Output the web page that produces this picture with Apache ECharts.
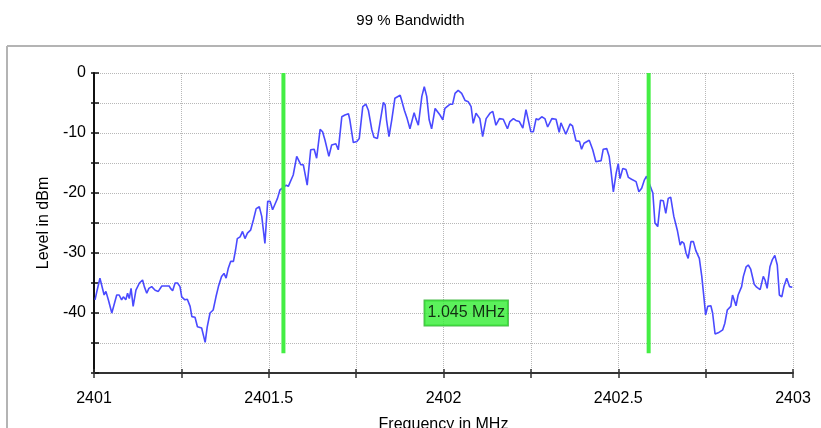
<!DOCTYPE html>
<html>
<head>
<meta charset="utf-8">
<script src="https://cdn.jsdelivr.net/npm/echarts@6/dist/echarts.min.js"></script>
<style>
html,body{margin:0;padding:0;background:#fff;}
#chart{width:821px;height:428px;}
</style>
</head>
<body>
<div id="chart"></div>
<script>
// Frequency (MHz) of each trace sample
var freqs = [2401.003,2401.009,2401.017,2401.022,2401.029,2401.034,2401.041,2401.051,2401.055,2401.065,
2401.072,2401.079,2401.084,2401.091,2401.096,2401.101,2401.106,2401.112,2401.120,2401.130,
2401.139,2401.144,2401.151,2401.157,2401.165,2401.175,2401.184,2401.194,2401.205,2401.215,
2401.219,2401.225,2401.232,2401.239,2401.246,2401.251,2401.260,2401.267,2401.275,2401.280,
2401.289,2401.296,2401.300,2401.308,2401.318,2401.324,2401.332,2401.341,2401.349,2401.356,
2401.365,2401.372,2401.378,2401.384,2401.391,2401.399,2401.405,2401.410,2401.418,2401.425,
2401.432,2401.439,2401.448,2401.456,2401.464,2401.473,2401.480,2401.489,2401.497,2401.504,
2401.511,2401.519,2401.525,2401.532,2401.537,2401.550,2401.556,2401.570,2401.580,2401.585,
2401.592,2401.599,2401.610,2401.620,2401.630,2401.637,2401.647,2401.654,2401.661,2401.672,
2401.680,2401.692,2401.699,2401.709,2401.718,2401.728,2401.732,2401.742,2401.752,2401.759,
2401.769,2401.778,2401.785,2401.795,2401.801,2401.811,2401.818,2401.828,2401.833,2401.837,
2401.844,2401.852,2401.861,2401.876,2401.880,2401.888,2401.896,2401.904,2401.909,2401.916,
2401.921,2401.928,2401.938,2401.945,2401.952,2401.959,2401.966,2401.976,2401.981,2401.990,
2401.998,2402.004,2402.019,2402.026,2402.033,2402.042,2402.052,2402.062,2402.071,2402.079,
2402.085,2402.093,2402.104,2402.112,2402.122,2402.133,2402.141,2402.150,2402.160,2402.171,
2402.183,2402.190,2402.200,2402.207,2402.217,2402.227,2402.236,2402.241,2402.250,2402.257,
2402.265,2402.271,2402.281,2402.290,2402.298,2402.310,2402.322,2402.331,2402.336,2402.341,
2402.350,2402.362,2402.369,2402.379,2402.389,2402.395,2402.402,2402.417,2402.427,2402.436,
2402.451,2402.457,2402.467,2402.474,2402.479,2402.486,2402.494,2402.500,2402.505,2402.513,
2402.522,2402.529,2402.538,2402.551,2402.559,2402.567,2402.575,2402.581,2402.599,2402.605,
2402.613,2402.621,2402.629,2402.636,2402.643,2402.650,2402.659,2402.669,2402.677,2402.682,
2402.688,2402.694,2402.700,2402.708,2402.715,2402.722,2402.732,2402.739,2402.745,2402.750,
2402.756,2402.765,2402.770,2402.777,2402.786,2402.799,2402.805,2402.812,2402.822,2402.827,
2402.832,2402.837,2402.843,2402.853,2402.858,2402.866,2402.872,2402.879,2402.889,2402.896,
2402.906,2402.915,2402.920,2402.926,2402.934,2402.941,2402.948,2402.955,2402.961,2402.968,
2402.974,2402.982,2402.990,2402.998];

// Level (dBm) of each trace sample
var levels = [-37.8,-36.2,-34.2,-34.2,-37,-36.4,-37.8,-40,-39.7,-37,
-37,-37.8,-37.3,-37.8,-36.7,-37.6,-35.9,-38.9,-36.2,-35,
-34.5,-35.6,-36.7,-35.9,-35.6,-36.2,-36.4,-35.5,-35.5,-35.5,
-35.9,-36.3,-35,-35,-35.6,-37.3,-37.8,-37.7,-38.9,-40.6,
-40.7,-42.3,-42.6,-42.5,-44.9,-42.3,-40,-39.5,-37.3,-35.6,
-33.9,-33.4,-34.2,-32.6,-31.4,-31.4,-29.5,-27.6,-27.3,-26.4,
-27.6,-26.7,-26.2,-24.5,-22.6,-22.3,-23.9,-28.4,-21.4,-21.4,
-22.8,-21.7,-20.9,-19.5,-19.2,-18.7,-18.9,-17,-13.9,-13.9,
-15.3,-15.3,-18.7,-12.8,-12.7,-14.2,-9.4,-9.8,-11.2,-13.9,
-12,-11.8,-12.8,-7.3,-7,-6.8,-7.8,-11.6,-11.4,-10.9,
-5.6,-5.2,-6.2,-9.5,-10.7,-10.9,-8.4,-4.9,-5.3,-7.8,
-10.6,-7.8,-4.2,-3.7,-4.5,-6.2,-7.6,-9.3,-9.2,-6.6,
-7.6,-8.7,-3.9,-2.3,-3.9,-7.8,-9.3,-5.9,-5.8,-7,
-7.8,-5.9,-5.2,-5.2,-3.4,-2.9,-3.4,-4.6,-4.8,-5.6,
-8.4,-6.7,-7.6,-10.6,-7.6,-6.7,-6.4,-8.7,-7.6,-7.7,
-9.3,-8.1,-7.6,-7.9,-8.1,-9.2,-6.1,-6.2,-9.8,-9.8,
-7.6,-7.8,-7.3,-7.6,-9.0,-7.6,-7.7,-9.9,-8.3,-8.4,
-10.2,-8.5,-8.8,-11.3,-11.4,-12.7,-11.7,-11.2,-12.8,-14.8,
-14.6,-12.7,-12.6,-13.9,-16.2,-19.8,-16.7,-15.1,-17.6,-15.9,
-16.1,-17.4,-17.7,-18.1,-19.8,-19.2,-17.8,-17.2,-20,-25,
-25.6,-21.2,-21.3,-23.4,-20.9,-20.7,-23.9,-26.2,-28.7,-28.1,
-28.4,-30,-30.9,-28.1,-28.1,-29.6,-30.9,-33.9,-37.3,-40.3,
-38.9,-38.8,-40,-43.5,-43.3,-42.8,-41.7,-39.5,-38.9,-37,
-37.2,-38.8,-37,-35.6,-33.9,-32.3,-32,-32.7,-35.2,-35.7,
-36.1,-33.9,-34.5,-35.9,-32.3,-31.1,-30.4,-32,-37,-37.3,
-35.6,-34.2,-35.6,-35.7];

// 99 % bandwidth markers
var markerFreqs = [2401.542, 2402.587];
var markerTop = 0;
var markerBottom = -46.7;
var bandwidthLabel = '1.045 MHz';
var labelPos = [2402.065, -40];

var xMin = 2401, xMax = 2403, xStep = 0.25;
var yMin = -50, yMax = 0, yStep = 5;

var FONT = '"Liberation Sans", Arial, Helvetica, sans-serif';

var traceData = freqs.map(function (f, i) { return [f, levels[i]]; });

function xLabel(v) {
  var d = v * 2;
  if (Math.abs(d - Math.round(d)) < 1e-6) return String(Math.round(v * 10) / 10);
  return '';
}
function yLabel(v) {
  if (v === yMin) return '';
  return (Math.round(v) % 10 === 0) ? String(Math.round(v)) : '';
}

var series = [{
  type: 'line',
  data: traceData,
  showSymbol: false,
  symbol: 'none',
  lineStyle: { color: '#4a4aff', width: 1.6 },
  z: 3,
  silent: true
}];
markerFreqs.forEach(function (f) {
  series.push({
    type: 'line',
    data: [[f, markerTop], [f, markerBottom]],
    symbol: 'none',
    lineStyle: { color: '#44ee44', width: 4 },
    z: 4,
    silent: true
  });
});
series.push({
  type: 'scatter',
  data: [labelPos],
  symbolSize: 0,
  z: 5,
  label: {
    show: true,
    position: 'inside',
    formatter: bandwidthLabel,
    fontFamily: FONT,
    fontSize: 16,
    color: '#000',
    backgroundColor: '#33ee33',
    borderColor: '#22aa22',
    borderWidth: 1,
    padding: [5, 3, 4, 3]
  },
  silent: true
});

var chart = echarts.init(document.getElementById('chart'), null, { renderer: 'canvas' });
chart.setOption({
  animation: false,
  backgroundColor: '#fff',
  title: {
    text: '99 % Bandwidth',
    left: 'center',
    top: 8,
    textStyle: { fontFamily: FONT, fontSize: 15, fontWeight: 'normal', color: '#000' }
  },
  graphic: [
    { type: 'line', shape: { x1: 7, y1: 46, x2: 821, y2: 46 }, style: { stroke: '#b4b4b4', lineWidth: 2 } },
    { type: 'line', shape: { x1: 7, y1: 46, x2: 7, y2: 428 }, style: { stroke: '#b4b4b4', lineWidth: 2 } }
  ],
  grid: { left: 94, top: 73, width: 699, height: 300, containLabel: false, outerBoundsMode: 'none' },
  xAxis: [{
    type: 'value', min: xMin, max: xMax, interval: xStep,
    name: 'Frequency in MHz', nameLocation: 'middle', nameGap: 44,
    nameTextStyle: { fontFamily: FONT, fontSize: 16, color: '#000' },
    axisLine: { show: true, onZero: false, lineStyle: { color: '#333', width: 2 } },
    axisTick: { show: true, length: 5, lineStyle: { color: '#333', width: 1.5 } },
    axisLabel: { formatter: xLabel, fontFamily: FONT, fontSize: 16, color: '#000', margin: 18, showMinLabel: true, showMaxLabel: true },
    splitLine: { show: true, lineStyle: { type: 'dotted', color: '#b8b8b8', width: 1 } }
  }, {
    type: 'value', min: xMin, max: xMax, interval: xStep, position: 'bottom',
    axisLine: { show: false, onZero: false },
    axisTick: { show: true, inside: true, length: 4, lineStyle: { color: '#333', width: 1.5 } },
    axisLabel: { show: false },
    splitLine: { show: false }
  }],
  yAxis: [{
    type: 'value', min: yMin, max: yMax, interval: yStep,
    name: 'Level in dBm', nameLocation: 'middle', nameGap: 40,
    nameTextStyle: { fontFamily: FONT, fontSize: 16, color: '#000' },
    axisLine: { show: true, onZero: false, lineStyle: { color: '#111', width: 2 } },
    axisTick: { show: true, length: 3, lineStyle: { color: '#111', width: 1.5 } },
    axisLabel: { formatter: yLabel, fontFamily: FONT, fontSize: 16, color: '#000', margin: 8 },
    splitLine: { show: true, lineStyle: { type: 'dotted', color: '#b8b8b8', width: 1 } }
  }, {
    type: 'value', min: yMin, max: yMax, interval: yStep, position: 'left',
    axisLine: { show: false, onZero: false },
    axisTick: { show: true, inside: true, length: 5, lineStyle: { color: '#111', width: 1.5 } },
    axisLabel: { show: false },
    splitLine: { show: false }
  }],
  series: series
});
</script>
</body>
</html>
